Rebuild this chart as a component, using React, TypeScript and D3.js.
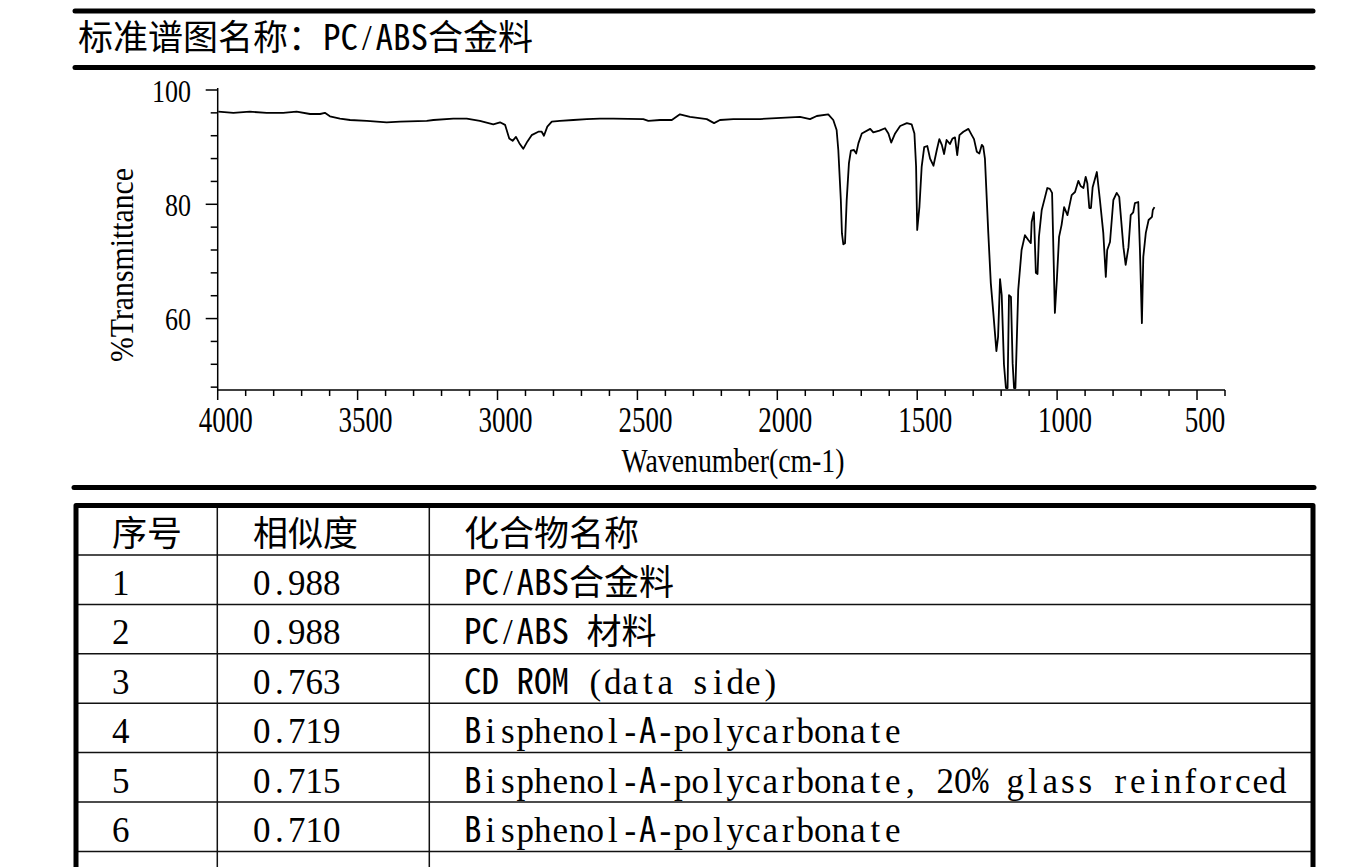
import React from 'react';
import * as d3 from 'd3';

// ---------- data ----------
const wavenumbers = [
  3998, 3944, 3885, 3825, 3766, 3718, 3670, 3634, 3617, 3599, 3563, 3527, 3467, 3396, 3348, 3253, 3229, 3158,
  3110, 3063, 3015, 2991, 2973, 2958, 2946, 2934, 2922, 2908, 2893, 2878, 2854, 2842, 2834, 2822, 2806, 2777,
  2729, 2681, 2634, 2586, 2479, 2461, 2419, 2377, 2348, 2312, 2252, 2226, 2205, 2157, 2062, 2038, 1919, 1883,
  1859, 1818, 1800, 1788, 1782, 1773, 1769, 1764, 1758, 1752, 1744, 1737, 1726, 1718, 1710, 1698, 1668, 1657,
  1635, 1615, 1603, 1593, 1579, 1561, 1537, 1520, 1510, 1504, 1500, 1492, 1484, 1475, 1464, 1454, 1442, 1430,
  1421, 1412, 1404, 1395, 1383, 1374, 1365, 1357, 1349, 1335, 1317, 1305, 1297, 1287, 1278, 1269, 1264, 1258,
  1246, 1237, 1228, 1217, 1211, 1204, 1198, 1190, 1183, 1177, 1172, 1165, 1159, 1154, 1149, 1139, 1127, 1115,
  1103, 1094, 1091, 1083, 1076, 1070, 1065, 1055, 1043, 1035, 1026, 1018, 1008, 1001, 993, 984, 975, 963, 948,
  936, 924, 916, 906, 898, 892, 885, 879, 873, 858, 847, 835, 826, 821, 811, 799, 787, 778, 763, 755, 745, 737,
  728, 722, 710, 704, 697, 692, 683, 673, 661, 658, 652,
];
const transmittance = [
  96.2, 96.0, 96.2, 96.0, 96.0, 96.2, 95.8, 95.8, 96.0, 95.4, 95.0, 94.75, 94.6, 94.35, 94.45, 94.6, 94.75, 95.0,
  95.0, 94.6, 94.0, 94.35, 93.9, 91.5, 91.1, 91.8, 90.7, 89.7, 91.0, 92.1, 92.7, 92.7, 92.0, 93.6, 94.45, 94.6,
  94.75, 94.9, 95.0, 95.0, 94.9, 94.6, 94.75, 94.75, 95.75, 95.3, 94.9, 94.2, 94.75, 94.9, 94.9, 95.0, 95.3, 94.9,
  95.45, 95.75, 94.75, 93.0, 89.5, 80.75, 74.9, 73.0, 73.2, 80.75, 87.2, 89.4, 89.5, 88.9, 90.7, 92.4, 93.2, 92.6,
  92.9, 93.3, 92.4, 90.8, 92.4, 93.7, 94.2, 94.0, 92.4, 86.6, 75.5, 79.6, 86.6, 90.0, 90.2, 88.0, 86.75, 89.5,
  91.4, 90.4, 88.8, 91.25, 90.55, 91.5, 91.7, 88.6, 92.1, 92.7, 93.2, 92.1, 91.4, 89.2, 88.9, 90.4, 90.1, 88.0,
  75.0, 66.2, 61.0, 54.3, 56.8, 66.9, 64.1, 52.0, 47.85, 47.85, 64.1, 63.8, 52.2, 47.85, 47.85, 65.0, 72.0, 74.6,
  73.75, 73.2, 76.9, 78.6, 68.0, 67.8, 74.3, 79.0, 81.3, 82.85, 82.7, 82.0, 61.0, 66.75, 74.3, 76.4, 79.5, 78.1, 81.6,
  82.15, 84.1, 83.2, 82.85, 84.8, 83.7, 79.35, 79.35, 83.0, 85.65, 80.75, 75.0, 67.3, 72.0, 73.4, 80.75, 82.0, 81.3, 72.5, 69.4, 72.5, 78.1,
  78.6, 80.2, 80.4, 72.0, 59.2, 70.8, 75.0, 77.25, 77.8, 79.0, 79.5,
];

const xMajorTicks = [4000, 3500, 3000, 2500, 2000, 1500, 1000, 500];
const yMajorTicks = [100, 80, 60];

const titleText = '标准谱图名称：PC/ABS合金料';
const headers = ['序号', '相似度', '化合物名称'];
const rowIds = ['1', '2', '3', '4', '5', '6'];
const similarity = ['0.988', '0.988', '0.763', '0.719', '0.715', '0.710'];
const compounds = [
  'PC/ABS合金料',
  'PC/ABS 材料',
  'CD ROM (data side)',
  'Bisphenol-A-polycarbonate',
  'Bisphenol-A-polycarbonate, 20% glass reinforced',
  'Bisphenol-A-polycarbonate',
];

// ---------- styling ----------
const CJK = "'Noto Sans CJK SC', sans-serif";
const SERIF = "'Liberation Serif', serif";
const HALFMONO = "'Noto Sans Mono CJK SC', 'Noto Sans CJK SC', monospace";

function isWide(ch: string) {
  return /[\u2E80-\u9FFF\uF900-\uFAFF\uFF01-\uFF60]/.test(ch);
}
// latin glyphs too wide for a half-width cell in the serif font
function isBroad(ch: string) {
  return /[A-HK-Zmw%&@]/.test(ch);
}

// Fixed-pitch text (full-width CJK cells, half-width latin cells), one glyph per cell.
function MonoText({ x, y, text, fs }: { x: number; y: number; text: string; fs: number }) {
  let cx = x;
  const cells = Array.from(text).map((ch) => {
    const wide = isWide(ch);
    const w = wide ? fs : fs / 2;
    const c = { ch, center: cx + w / 2, fam: wide ? CJK : isBroad(ch) ? HALFMONO : SERIF, broad: !wide && isBroad(ch) };
    cx += w;
    return c;
  });
  return (
    <text y={y} textAnchor="middle" style={{ whiteSpace: 'pre' }} fill="#000">
      {cells.map((c, i) => (
        <tspan key={i} x={c.center.toFixed(2)} fontFamily={c.fam} fontSize={fs} fontWeight={c.broad ? 300 : 400}>
          {c.ch}
        </tspan>
      ))}
    </text>
  );
}

export default function App() {
  const W = 1372;
  const H = 867;
  const x = d3.scaleLinear().domain([4000, 400]).range([217.7, 1225]);
  const y = d3.scaleLinear().domain([47.5, 100]).range([390, 90]);

  const points = wavenumbers.map((w, i) => [w, transmittance[i]] as [number, number]);
  const line = d3
    .line<[number, number]>()
    .x((d) => x(d[0]))
    .y((d) => y(d[1]));

  const xMinor = d3.range(400, 4001, 100);
  const yMinor = d3.range(48, 101, 4);

  const tableTop = 505.5;
  const headerBottom = 555;
  const rowH = 49.4;
  const colX = [76, 217.3, 429.3, 1313];
  const textX = [112, 253, 464];
  const FS = 35;

  return (
    <svg
      width={W}
      height={H}
      style={{ position: 'absolute', left: 0, top: 0, background: '#fff' }}
      xmlns="http://www.w3.org/2000/svg"
    >
      <rect x={0} y={0} width={W} height={H} fill="#fff" />
      {/* header rules */}
      <line x1={75} x2={1313} y1={11} y2={11} stroke="#000" strokeWidth={5} strokeLinecap="round" />
      <MonoText x={78} y={50} text={titleText} fs={FS} />
      <line x1={75} x2={1313} y1={67.5} y2={67.5} stroke="#000" strokeWidth={5} strokeLinecap="round" />

      {/* axes */}
      <g stroke="#000" strokeWidth={1.5} fill="none">
        <line x1={x(4000)} x2={x(4000)} y1={88} y2={390} />
        <line x1={x(4000)} x2={x(400)} y1={390} y2={390} />
        {xMinor.map((v) => (
          <line key={'xm' + v} x1={x(v)} x2={x(v)} y1={390} y2={v % 500 === 0 ? 400 : 396} />
        ))}
        {yMinor.map((v) => (
          <line key={'ym' + v} x1={x(4000)} x2={x(4000) - (v % 20 === 0 ? 12 : 7)} y1={y(v)} y2={y(v)} />
        ))}
      </g>
      {xMajorTicks.map((v) => (
        <text
          key={'xl' + v}
          x={x(v) + 8}
          y={431.5}
          textAnchor="middle"
          fontFamily={SERIF}
          fontSize={36}
          textLength={String(v).length * 13.5}
          lengthAdjust="spacingAndGlyphs"
        >
          {v}
        </text>
      ))}
      {yMajorTicks.map((v) => (
        <text
          key={'yl' + v}
          x={191}
          y={y(v) + 11.5}
          textAnchor="end"
          fontFamily={SERIF}
          fontSize={32}
          textLength={String(v).length * 13}
          lengthAdjust="spacingAndGlyphs"
        >
          {v}
        </text>
      ))}
      <text
        x={733}
        y={472}
        textAnchor="middle"
        fontFamily={SERIF}
        fontSize={34}
        textLength={223}
        lengthAdjust="spacingAndGlyphs"
      >
        Wavenumber(cm-1)
      </text>
      <text
        transform="translate(133,265) rotate(-90)"
        textAnchor="middle"
        fontFamily={SERIF}
        fontSize={34}
        textLength={194}
        lengthAdjust="spacingAndGlyphs"
      >
        %Transmittance
      </text>

      {/* spectrum */}
      <path d={line(points) || ''} fill="none" stroke="#000" strokeWidth={1.8} strokeLinejoin="round" />

      {/* rule above table */}
      <line x1={74} x2={1314} y1={487.5} y2={487.5} stroke="#000" strokeWidth={5} strokeLinecap="round" />

      {/* table grid */}
      <g stroke="#111" strokeWidth={1.5}>
        {rowIds.map((_, i) => (
          <line key={'hr' + i} x1={colX[0]} x2={colX[3]} y1={headerBottom + i * rowH} y2={headerBottom + i * rowH} />
        ))}
        <line x1={colX[0]} x2={colX[3]} y1={headerBottom + 6 * rowH} y2={headerBottom + 6 * rowH} />
        <line x1={colX[1]} x2={colX[1]} y1={tableTop} y2={H} />
        <line x1={colX[2]} x2={colX[2]} y1={tableTop} y2={H} />
      </g>
      <g stroke="#000" strokeWidth={5} fill="none">
        <path d={`M${colX[0]},${H + 5} L${colX[0]},${tableTop} L${colX[3]},${tableTop} L${colX[3]},${H + 5}`} strokeLinejoin="round" />
      </g>

      {/* table text */}
      {headers.map((h, i) => (
        <MonoText key={'h' + i} x={textX[i]} y={546} text={h} fs={FS} />
      ))}
      {rowIds.map((id, i) => {
        const by = 595 + i * rowH;
        return (
          <g key={'r' + i}>
            <MonoText x={textX[0]} y={by} text={id} fs={FS} />
            <MonoText x={textX[1]} y={by} text={similarity[i]} fs={FS} />
            <MonoText x={textX[2]} y={by} text={compounds[i]} fs={FS} />
          </g>
        );
      })}
    </svg>
  );
}
